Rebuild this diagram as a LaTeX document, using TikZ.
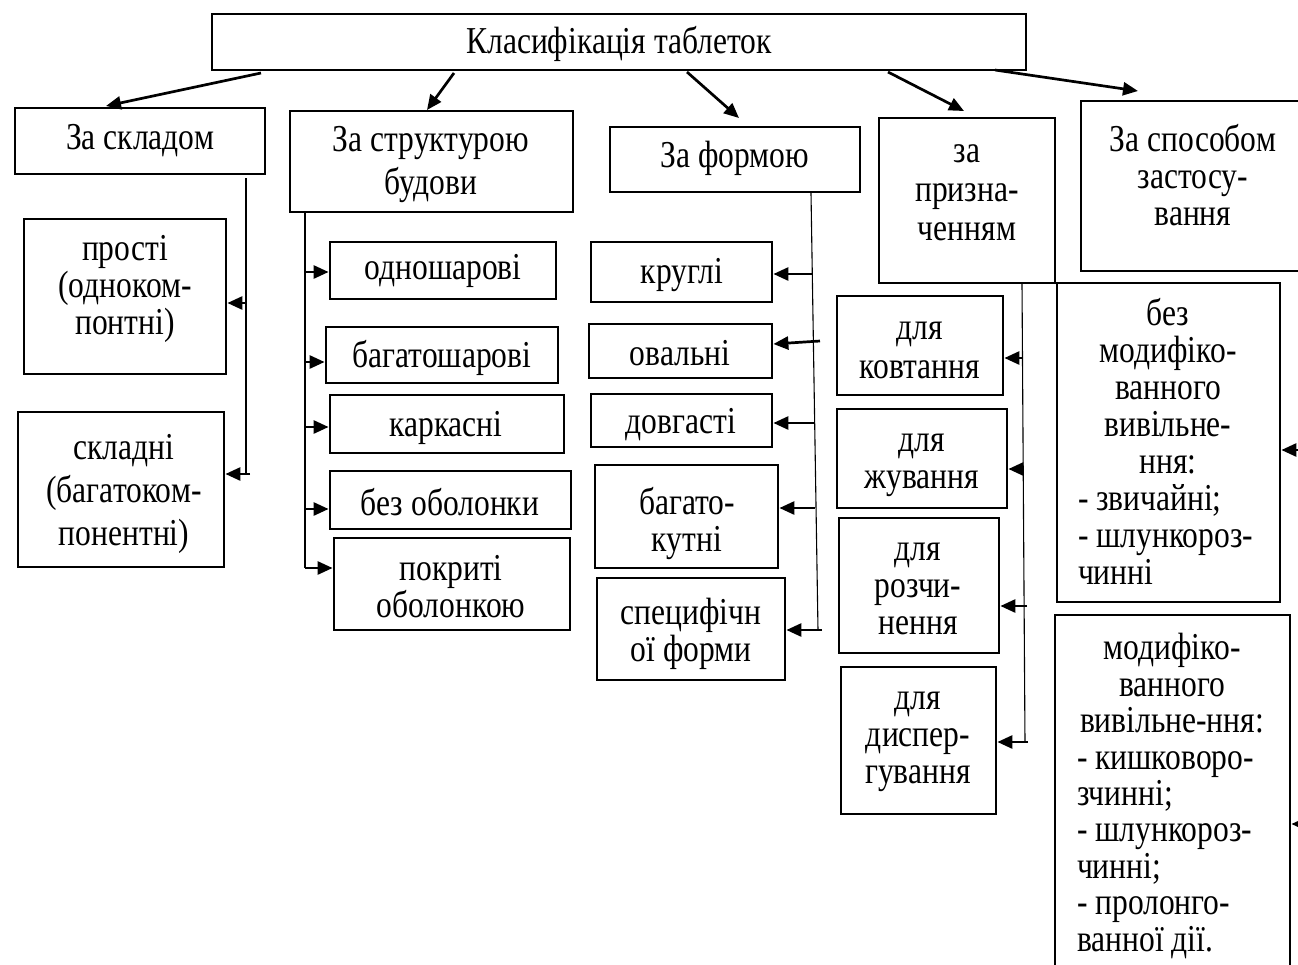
\documentclass[tikz,border=0pt]{standalone}
\usepackage{fontspec}
\setmainfont{Liberation Serif}[FakeStretch=0.83]
\usetikzlibrary{arrows.meta,fit,calc}
\newcommand\fs{\fontsize{19pt}{18.5pt}\selectfont}
\newcommand\fsb{\fontsize{19pt}{18.2pt}\selectfont}
\newcommand\fsw{\fontsize{19pt}{21.5pt}\selectfont}
\newcommand\fsm{\fontsize{19pt}{19.5pt}\selectfont}
\newcommand\mbc[2]{\makebox[#1][c]{#2}}
\newcommand\mbl[2]{\makebox[#1][l]{#2}}
\begin{document}
\begin{tikzpicture}[x=0.5pt,y=-0.5pt,
  bx/.style={draw,line width=1.4pt,inner sep=0pt},
  txt/.style={inner sep=0pt,align=center,font=\fs},
  arr/.style={line width=1.35pt,-{Triangle[length=7.5pt,width=6.5pt]}},
  bus/.style={line width=0.55pt}]
\useasboundingbox (0,0) rectangle (1298,965);
\clip (0,0) rectangle (1298,965);

% ---------- top ----------
\node[bx,fit={(212,14) (1026,70)}] (top) {};
\node[txt] (topt) at (619,44) {Класифікація таблеток};

% ---------- level 1 ----------
\node[bx,fit={(15,108) (265,174)}] (sklad) {};
\node[txt] (skladt) at (140,141) {За складом};
\node[bx,fit={(290,111) (573,212)}] (strukt) {};
\node[txt,font=\fsw] (struktt) at (431,165) {За структурою\\будови};
\node[bx,fit={(610,127) (860,192)}] (forma) {};
\node[txt] (format) at (735,158) {За формою};
\node[bx,fit={(879,118) (1055,283)}] (pryzn) {};
\node[txt,font=\fsm] (pryznt) at (967,193) {за\\призна-\\ченням};
\node[bx,fit={(1081,101) (1310,271)}] (sposib) {};
\node[txt] (sposibt) at (1193,175) {За способом\\застосу-\\вання};

% top arrows
\coordinate (a1s) at (261,73);  \coordinate (a1e) at (106,106);
\coordinate (a2s) at (454,73);  \coordinate (a2e) at (427,110);
\coordinate (a3s) at (687,72);  \coordinate (a3e) at (739,118);
\coordinate (a4s) at (888,72);  \coordinate (a4e) at (964,111);
\coordinate (a5s) at (995,70);  \coordinate (a5e) at (1138,91);
\draw[arr] (a1s) -- (a1e);
\draw[arr] (a2s) -- (a2e);
\draw[arr] (a3s) -- (a3e);
\draw[arr] (a4s) -- (a4e);
\draw[arr] (a5s) -- (a5e);

% ---------- column 1 ----------
\node[bx,fit={(24,219) (226,374)}] (prost) {};
\node[txt] (prostt) at (125,289) {прості\\(одноком-\\понтні)};
\node[bx,fit={(18,412) (224,567)}] (skladn) {};
\node[txt,font=\fsw] (skladnt) at (124,494) {складні\\(багатоком-\\понентні)};
\coordinate (b1top) at (246,178);
\coordinate (b1a) at (246,303);
\coordinate (b1b) at (250,474);
\coordinate (b1bot) at (246,475);
\draw[bus] (b1top) -- (b1bot);
\draw[arr] (b1a) -- (b1a -| prost.east);
\draw[arr] (b1b) -- (b1b -| skladn.east);

% ---------- column 2 ----------
\node[bx,fit={(330,242) (556,299)}] (odno) {};
\node[txt] (odnot) at (443,271) {одношарові};
\node[bx,fit={(326,327) (558,383)}] (bagsh) {};
\node[txt] (bagsht) at (442,358) {багатошарові};
\node[bx,fit={(330,395) (564,453)}] (karkas) {};
\node[txt] (karkast) at (446,428) {каркасні};
\node[bx,fit={(330,471) (571,529)}] (bezob) {};
\node[txt] (bezobt) at (450,502) {без оболонки};
\node[bx,fit={(334,538) (570,630)}] (pokr) {};
\node[txt] (pokrt) at (451,587) {покриті\\оболонкою};
\coordinate (b2top) at (305,212);
\coordinate (b2bot) at (305,568);
\coordinate (b2a) at (305,272);
\coordinate (b2b) at (305,362);
\coordinate (b2c) at (305,427);
\coordinate (b2d) at (305,509);
\draw[bus] (b2top) -- (b2bot);
\draw[arr] (b2a) -- (b2a -| odno.west);
\draw[arr] (b2b) -- (b2b -| bagsh.west);
\draw[arr] (b2c) -- (b2c -| karkas.west);
\draw[arr] (b2d) -- (b2d -| bezob.west);
\draw[arr] (b2bot) -- (b2bot -| pokr.west);

% ---------- column 3 ----------
\node[bx,fit={(591,242) (772,302)}] (krug) {};
\node[txt] (krugt) at (682,275) {круглі};
\node[bx,fit={(589,324) (772,378)}] (oval) {};
\node[txt] (ovalt) at (680,353) {овальні};
\node[bx,fit={(591,394) (772,447)}] (dovg) {};
\node[txt] (dovgt) at (681,425) {довгасті};
\node[bx,fit={(595,465) (778,568)}] (bagk) {};
\node[txt] (bagkt) at (687,523) {багато-\\кутні};
\node[bx,fit={(597,578) (785,680)}] (spec) {};
\node[txt] (spect) at (691,634) {специфічн\\ої форми};
\coordinate (b3top) at (811,193);
\coordinate (b3bot) at (818,630);
\coordinate (b3a) at (812,274);
\coordinate (b3b) at (820,341);
\coordinate (b3c) at (814,423);
\coordinate (b3d) at (815,508);
\coordinate (b3e) at (822,630);
\draw[bus] (b3top) -- (b3bot);
\draw[arr] (b3a) -- (b3a -| krug.east);
\draw[arr] (b3b) -- ($(b3b -| oval.east)+(0,3)$);
\draw[arr] (b3c) -- (b3c -| dovg.east);
\draw[arr] (b3d) -- (b3d -| bagk.east);
\draw[arr] (b3e) -- (b3e -| spec.east);

% ---------- column 4 ----------
\node[bx,fit={(837,296) (1003,395)}] (kovt) {};
\node[txt,font=\fsm] (kovtt) at (920,350) {для\\ковтання};
\node[bx,fit={(837,409) (1007,508)}] (zhuv) {};
\node[txt] (zhuvt) at (922,465) {для\\жування};
\node[bx,fit={(839,518) (999,653)}] (rozch) {};
\node[txt] (rozcht) at (918,589) {для\\розчи-\\нення};
\node[bx,fit={(841,667) (996,814)}] (disp) {};
\node[txt] (dispt) at (918,742) {для\\диспер-\\гування};
\coordinate (b4top) at (1022,283);
\coordinate (b4bot) at (1025,742);
\coordinate (b4a) at (1022,358);
\coordinate (b4b) at (1024,469);
\coordinate (b4c) at (1027,606);
\coordinate (b4d) at (1028,742);
\draw[bus] (b4top) -- (b4bot);
\draw[arr] (b4a) -- (b4a -| kovt.east);
\draw[arr] (b4b) -- (b4b -| zhuv.east);
\draw[arr] (b4c) -- (b4c -| rozch.east);
\draw[arr] (b4d) -- (b4d -| disp.east);

% ---------- column 5 ----------
\node[bx,fit={(1057,283) (1280,602)}] (bezmod) {};
\node[txt,align=left] (bezmodt) at (1168,441) {%
\mbc{90pt}{без}\\
\mbc{90pt}{модифіко-}\\
\mbc{90pt}{ванного}\\
\mbc{90pt}{вивільне-}\\
\mbc{90pt}{ння:}\\
\mbl{90pt}{- звичайні;}\\
\mbl{90pt}{- шлункороз-}\\
\mbl{90pt}{чинні}};
\node[bx,fit={(1055,615) (1290,1010)}] (mod) {};
\node[txt,align=left,font=\fsb] (modt) at (1172,796) {%
\mbc{95pt}{модифіко-}\\
\mbc{95pt}{ванного}\\
\mbc{95pt}{вивільне-ння:}\\
\mbl{95pt}{- кишковоро-}\\
\mbl{95pt}{зчинні;}\\
\mbl{95pt}{- шлункороз-}\\
\mbl{95pt}{чинні;}\\
\mbl{95pt}{- пролонго-}\\
\mbl{95pt}{ванної дії.}};
\coordinate (c5a) at (1310,450);
\coordinate (c5b) at (1310,824);
\draw[arr] (c5a) -- (c5a -| bezmod.east);
\draw[arr] (c5b) -- (c5b -| mod.east);
\end{tikzpicture}
\end{document}
